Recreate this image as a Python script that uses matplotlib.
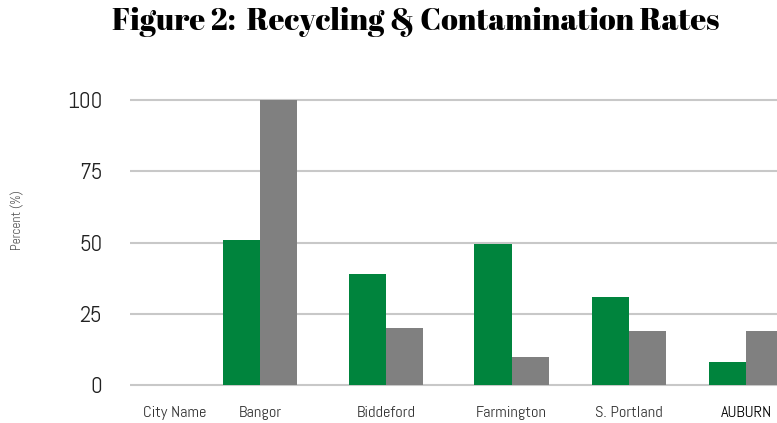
import matplotlib
matplotlib.use("Agg")
import matplotlib.pyplot as plt
import numpy as np

# data
cities = ["City Name", "Bangor", "Biddeford", "Farmington", "S. Portland", "AUBURN"]
recycling = [0, 51, 39, 49.5, 31, 8]
contamination = [0, 100, 20, 10, 19, 19]

green = "#00843d"
grey = "#808080"

cond = ["Abel", "DejaVu Sans"]
heavy = ["Abril Fatface", "DejaVu Serif"]

fig = plt.figure(figsize=(7.77, 4.23), dpi=100)
ax = fig.add_axes([0.1673, 0.0831, 0.8327, 0.6872])

# category positions (first slot is just the header label)
x = np.array([0.3, 1, 2.04, 3.07, 4.04, 5])
w = 0.305
ax.bar(x - w / 2, recycling, w, color=green, zorder=3)
ax.bar(x + w / 2, contamination, w, color=grey, zorder=3)

ax.set_xlim(-0.07, 5.255)
ax.set_ylim(-1, 101)
ax.set_yticks([0, 25, 50, 75, 100])
ax.yaxis.grid(True, color="#c8c8c8", linewidth=1.5, zorder=0)
for s in ax.spines.values():
    s.set_visible(False)
ax.tick_params(length=0)
ax.tick_params(axis="y", pad=20, labelsize=16.5, labelcolor="#222222")
ax.tick_params(axis="x", pad=13, labelsize=11.8, labelcolor="#333333")
for t in ax.get_yticklabels():
    t.set_family(cond)
ax.set_xticks(x)
ax.set_xticklabels(cities)
for t in ax.get_xticklabels():
    t.set_family(cond)
    if t.get_text() == "AUBURN":
        t.set_color("black")

fig.text(0.023, 0.48, "Percent (%)", rotation=90, ha="center", va="center",
         fontsize=9.5, color="#555555", family=cond)
fig.text(0.535, 0.948, "Figure 2:  Recycling & Contamination Rates", ha="center",
         va="center", fontsize=22, family=heavy)

fig.savefig("out.png", dpi=100)
